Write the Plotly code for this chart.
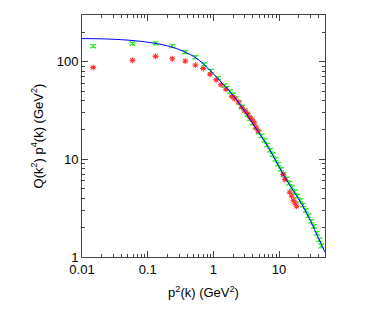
import plotly.graph_objects as go

# Fit curve
curve_x = [0.01, 0.02, 0.05, 0.1, 0.2, 0.3, 0.5, 0.7, 1, 1.5, 2, 3, 4, 6, 8, 12, 17, 22, 30, 40, 50]
curve_y = [172, 171, 166, 158, 145, 133, 113, 95, 75, 56, 45, 31, 23, 15.3, 11, 6.7, 4.6, 3.5, 2.35, 1.55, 1.12]

# Green series
green_x = [0.0148, 0.0586, 0.132, 0.237, 0.373, 0.533, 0.73, 0.92, 1.17, 1.47, 1.62, 1.8, 2.0, 2.2,
           2.45, 2.7, 3.0, 3.3, 3.6, 4.0, 4.4, 4.9, 5.4, 6.0, 6.6, 7.3, 8.0, 8.8, 9.7, 10.7, 11.8,
           13, 14.3, 15.7, 17.3, 19, 21, 23, 25.5, 28, 31, 34, 37.5, 41, 44]
green_y = [144, 153, 154, 144, 125, 111, 94, 80, 68, 57, 53.5, 49.5, 46, 42, 38, 34.5, 31.5, 28.5,
           26, 23.5, 21.3, 19, 17.3, 15.6, 14, 12.4, 11.2, 10, 8.9, 7.9, 7.0, 6.3, 5.7, 5.15, 4.65,
           4.2, 3.8, 3.4, 3.0, 2.65, 2.32, 2.05, 1.75, 1.5, 1.3]
green_err = [5, 5, 5, 5, 4, 4, 3, 3, 2.5, 2, 2, 1.8, 1.6, 1.5, 1.3, 1.2, 1.1, 1.0, 0.9, 0.8, 0.75,
             0.7, 0.62, 0.56, 0.5, 0.45, 0.4, 0.36, 0.32, 0.29, 0.26, 0.23, 0.21, 0.19, 0.17, 0.16,
             0.14, 0.13, 0.12, 0.1, 0.09, 0.08, 0.07, 0.06, 0.06]

# Red series
red_x = [0.0148, 0.0586, 0.132, 0.237, 0.373, 0.533, 0.70, 0.89, 1.1, 1.3, 1.55, 1.9, 2.1, 2.4,
         2.7, 3.0, 3.3, 3.6, 3.9, 4.2, 4.5, 4.8, 11.5, 12.3, 14.5, 15.5, 16.5, 17.5, 18.5]
red_y = [87, 103, 113, 107, 101, 92, 85, 74, 65, 58, 52, 44, 42, 38.5, 34, 31.5, 29.5, 27, 25.5,
         23.5, 21, 19.5, 7.0, 6.2, 4.6, 4.2, 3.8, 3.55, 3.3]
red_err = [2, 3, 3, 3, 3, 2, 2, 2, 1.5, 1.3, 1.2, 1, 1, 0.9, 0.8, 0.7, 0.7, 0.6, 0.6, 0.5, 0.5,
           0.45, 0.18, 0.16, 0.12, 0.11, 0.1, 0.1, 0.09]

FONT = "Liberation Sans, Arial, sans-serif"

fig = go.Figure()
fig.add_trace(go.Scatter(
    x=green_x, y=green_y, mode="markers",
    marker=dict(symbol="x-thin", size=5, line=dict(color="#22ee22", width=1), color="#22ee22"),
    error_y=dict(type="data", array=green_err, color="#22ee22", thickness=1, width=3),
    showlegend=False))
fig.add_trace(go.Scatter(
    x=red_x, y=red_y, mode="markers",
    marker=dict(symbol="asterisk", size=5, line=dict(color="#ff3333", width=1), color="#ff3333"),
    error_y=dict(type="data", array=red_err, color="#ff3333", thickness=1, width=2),
    showlegend=False))
fig.add_trace(go.Scatter(
    x=curve_x, y=curve_y, mode="lines", line=dict(color="#0000ff", width=1, shape="spline"),
    showlegend=False))

axis_common = dict(
    type="log", showgrid=False, zeroline=False, showline=True, linecolor="#444444", linewidth=1,
    mirror="ticks", ticks="inside", ticklen=6, tickcolor="#444444",
    tickfont=dict(family=FONT, size=13, color="#000000"),
    minor=dict(ticks="inside", ticklen=3, tickcolor="#444444", dtick="D1", showgrid=False),
)

fig.update_xaxes(
    range=[-2, 1.69897], tickvals=[0.01, 0.1, 1, 10], ticktext=["0.01", "0.1", "1", "10"],
    title=dict(text="p<sup>2</sup>(k) (GeV<sup>2</sup>)", standoff=12,
               font=dict(family=FONT, size=13, color="#000000")),
    **axis_common)
fig.update_yaxes(
    range=[0, 2.4771], tickvals=[1, 10, 100], ticktext=["1", "10", "100"],
    title=dict(text="Q(k<sup>2</sup>) p<sup>4</sup>(k) (GeV<sup>2</sup>)", standoff=10,
               font=dict(family=FONT, size=13, color="#000000")),
    **axis_common)

fig.update_layout(
    width=388, height=315,
    margin=dict(l=74, r=71, t=7, b=66),
    paper_bgcolor="white", plot_bgcolor="white",
)

fig.write_html("out.html")
